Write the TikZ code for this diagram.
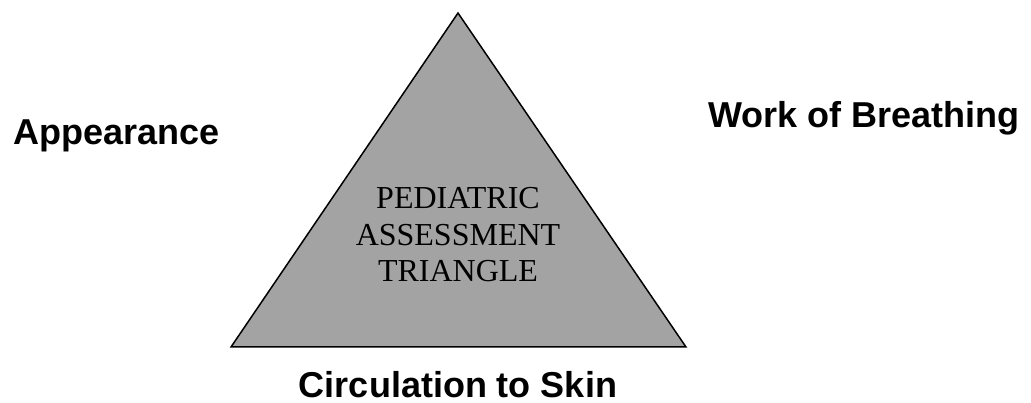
\documentclass[tikz,border=0pt]{standalone}
\usepackage{fontspec}
\setmainfont{Liberation Serif}
\setsansfont{Liberation Sans}
\begin{document}
\begin{tikzpicture}[x=1pt,y=-1pt,
  lab/.style={font=\sffamily\bfseries\fontsize{36}{40}\selectfont, inner sep=0pt},
  tri/.style={draw=black, line width=1.5pt, fill=black!36, line join=miter},
  mid/.style={font=\rmfamily\fontsize{32}{36.5}\selectfont, align=center, inner sep=0pt}]
\useasboundingbox (0,0) rectangle (1031,403);
\coordinate (apex) at (458,13);
\coordinate (bl) at (231,347);
\coordinate (br) at (686,347);
\draw[tri] (apex) -- (br) -- (bl) -- cycle;
\node[mid, anchor=base] (pat) at (458,282) {PEDIATRIC\\ASSESSMENT\\TRIANGLE};
\node[lab, anchor=base west] (app) at (13,145) {Appearance};
\node[lab, anchor=base west] (wob) at (708,128) {Work of Breathing};
\node[lab, anchor=base] (cts) at (458,397) {Circulation to Skin};
\end{tikzpicture}
\end{document}
